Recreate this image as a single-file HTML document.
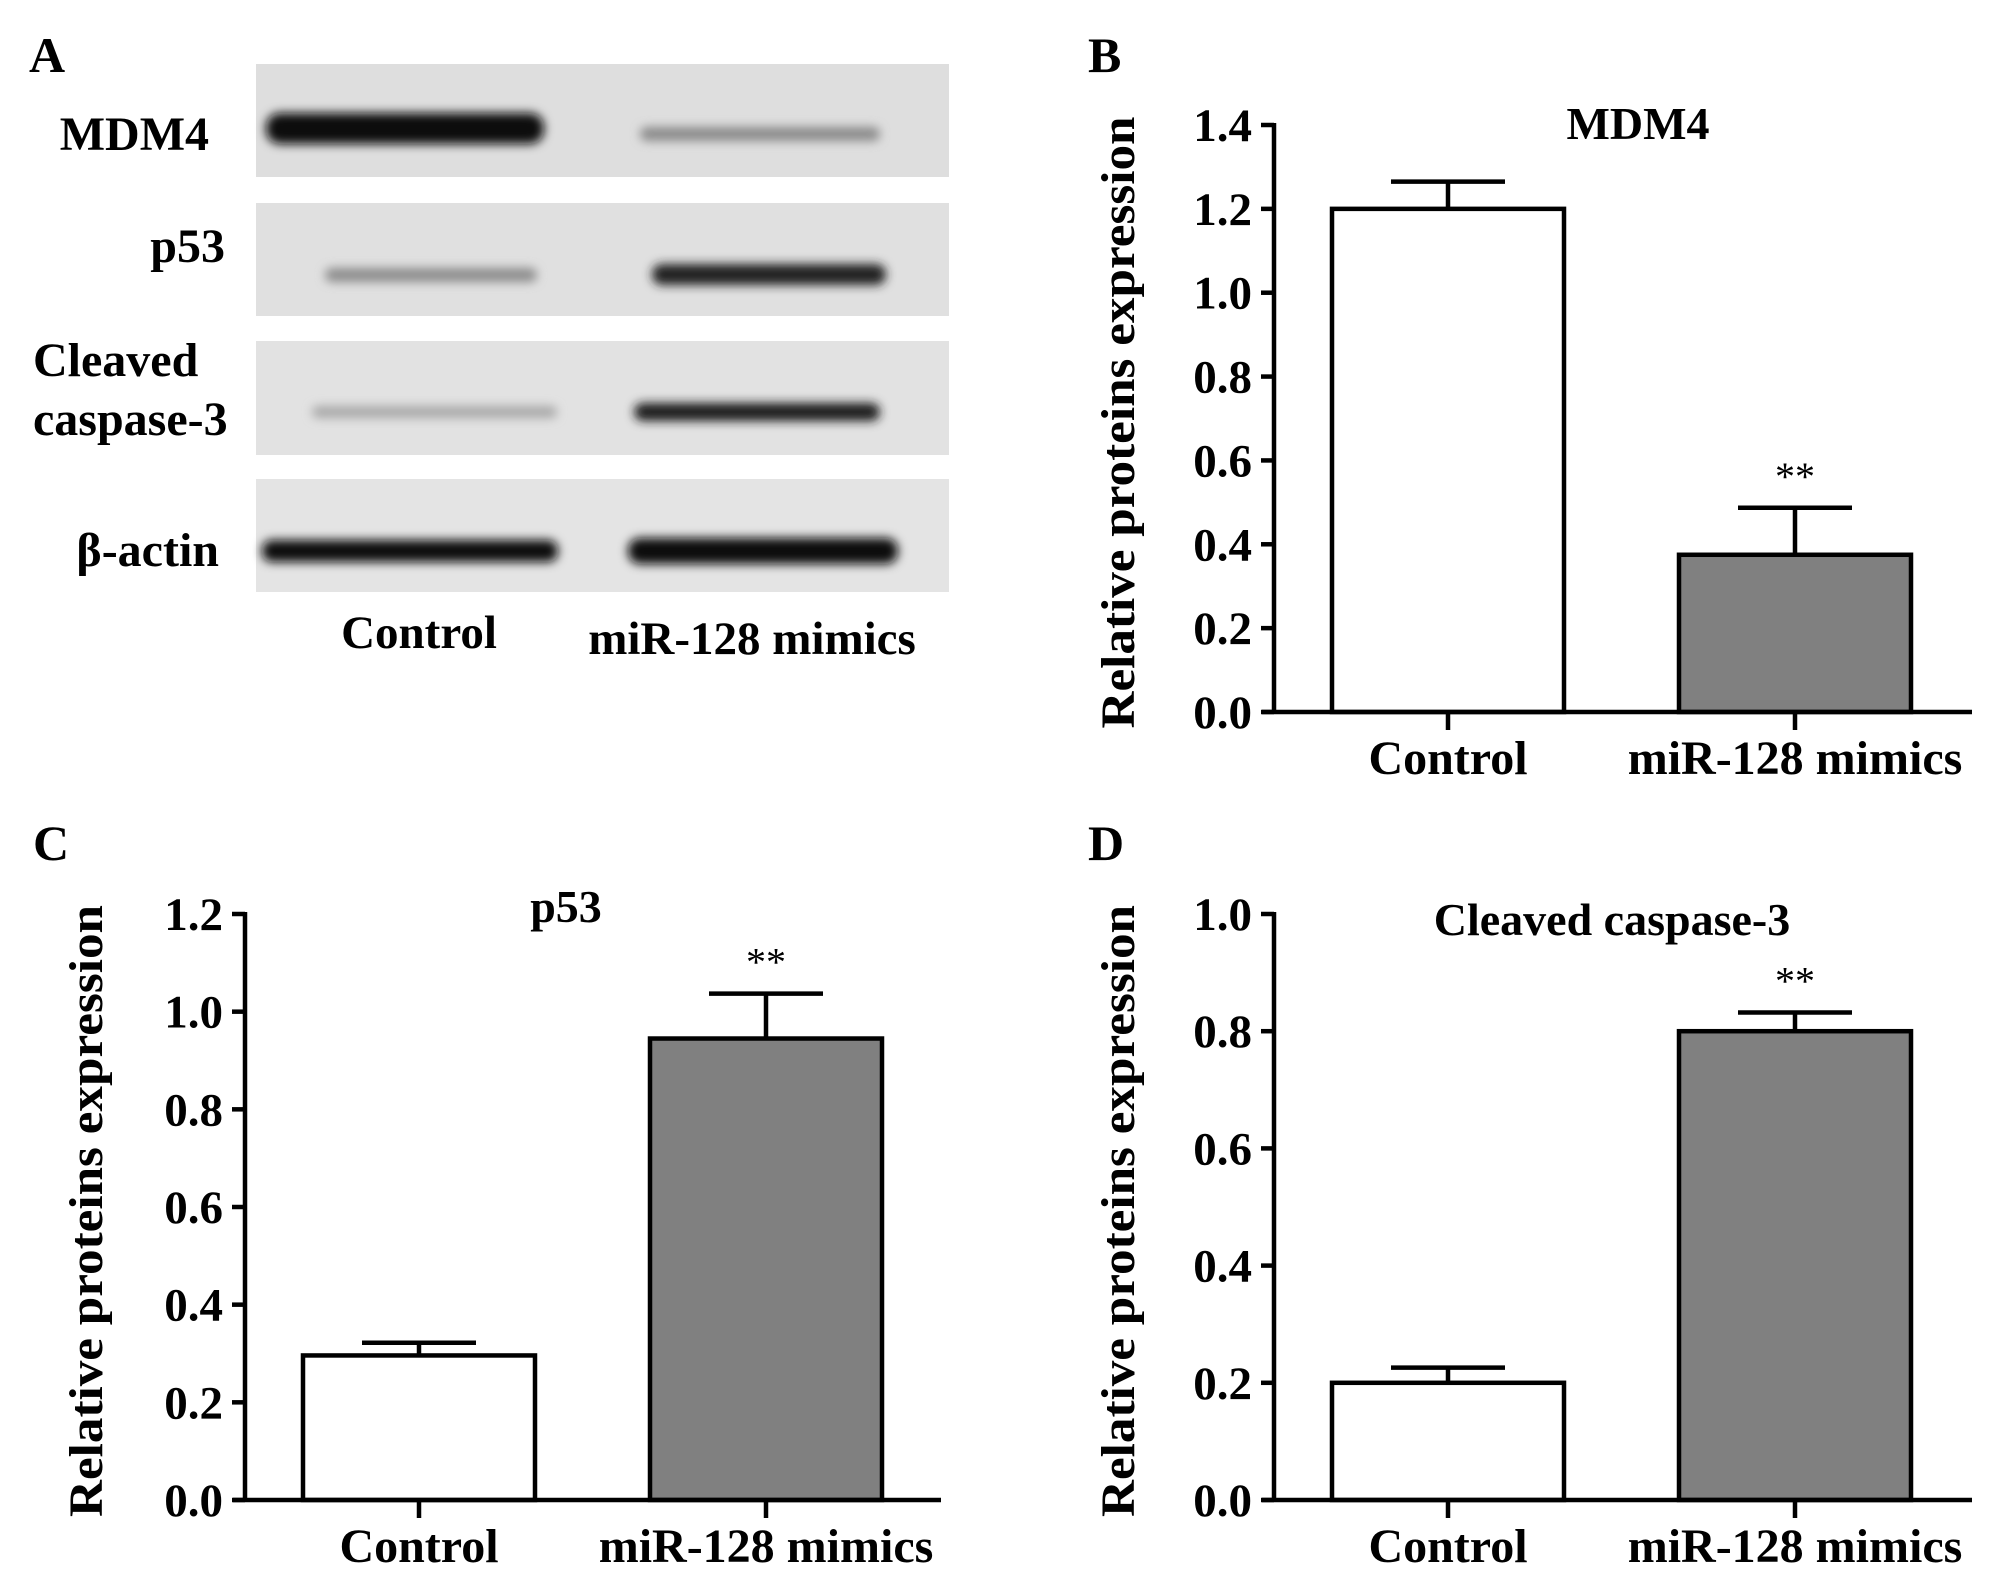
<!DOCTYPE html>
<html><head><meta charset="utf-8"><style>
html,body{margin:0;padding:0;background:#fff;}
svg{display:block;font-family:"Liberation Serif",serif;font-weight:bold;}
</style></head><body>
<svg id="fig" width="2008" height="1580" viewBox="0 0 2008 1580" xmlns="http://www.w3.org/2000/svg">
<defs>
<filter id="blur" x="-20%" y="-100%" width="140%" height="300%"><feGaussianBlur stdDeviation="5"/></filter>
</defs>
<rect width="2008" height="1580" fill="#fff"/>
<g id="panelA">
<text x="29" y="72" font-size="50">A</text>
<g>
<rect x="256" y="64" width="693" height="113" fill="#dedede"/>
<rect x="266" y="113" width="278" height="31" rx="14" fill="#0a0a0a" filter="url(#blur)"/>
<rect x="640" y="127" width="240" height="14" rx="7" fill="#8a8a8a" filter="url(#blur)"/>
</g>
<g>
<rect x="256" y="203" width="693" height="113" fill="#e0e0e0"/>
<rect x="325" y="268" width="212" height="14" rx="7" fill="#8c8c8c" filter="url(#blur)"/>
<rect x="652" y="264" width="234" height="21" rx="10" fill="#222" filter="url(#blur)"/>
</g>
<g>
<rect x="256" y="341" width="693" height="114" fill="#e2e2e2"/>
<rect x="312" y="406" width="245" height="12" rx="6" fill="#a8a8a8" filter="url(#blur)"/>
<rect x="634" y="403" width="246" height="18" rx="9" fill="#1a1a1a" filter="url(#blur)"/>
</g>
<g>
<rect x="256" y="479" width="693" height="113" fill="#e4e4e4"/>
<rect x="262" y="540" width="296" height="22" rx="10" fill="#111" filter="url(#blur)"/>
<rect x="628" y="538" width="270" height="26" rx="12" fill="#0c0c0c" filter="url(#blur)"/>
</g>
<text x="209" y="150" font-size="48" text-anchor="end">MDM4</text>
<text x="225" y="262" font-size="48" text-anchor="end">p53</text>
<text x="33" y="376" font-size="48">Cleaved</text>
<text x="33" y="435" font-size="48">caspase-3</text>
<text x="219" y="566" font-size="48" text-anchor="end">β-actin</text>
<text x="419" y="648" font-size="47" text-anchor="middle">Control</text>
<text x="752" y="654" font-size="47" text-anchor="middle">miR-128 mimics</text>
</g>
</svg>
<script>
// Chart data
const categories = ["Control", "miR-128 mimics"];
const mdm4Values = [1.2, 0.375];
const mdm4Errors = [0.065, 0.112];
const p53Values = [0.296, 0.945];
const p53Errors = [0.026, 0.092];
const caspValues = [0.2, 0.8];
const caspErrors = [0.026, 0.032];
const mdm4Ticks = ["0.0","0.2","0.4","0.6","0.8","1.0","1.2","1.4"];
const p53Ticks = ["0.0","0.2","0.4","0.6","0.8","1.0","1.2"];
const caspTicks = ["0.0","0.2","0.4","0.6","0.8","1.0"];
const sigMarks = ["", "**"];

const NS = "http://www.w3.org/2000/svg";
const svg = document.getElementById('fig');
function mk(tag, attrs, parent) {
  const e = document.createElementNS(NS, tag);
  for (const k in attrs) e.setAttribute(k, attrs[k]);
  (parent || svg).appendChild(e);
  return e;
}

function drawChart(cfg) {
  const g = mk('g', {});
  
  
  const yMax = parseFloat(cfg.ticks[cfg.ticks.length - 1]);
  const y = v => cfg.y0 - (v / yMax) * (cfg.y0 - cfg.yTop);
  const xc = i => cfg.ax + 174 + i * 347;
  const lw = 4.5;

  const letter = mk('text', {x: cfg.letterX, y: cfg.letterY, 'font-size': 50}, g);
  letter.textContent = cfg.letter;
  
  

  const title = mk('text', {x: cfg.titleX, y: cfg.titleY, 'font-size': 46, 'text-anchor': 'middle'}, g);
  title.textContent = cfg.title;
  
  

  const yt = mk('text', {x: 0, y: 0, 'font-size': 48, 'text-anchor': 'middle', textLength: 612, lengthAdjust: 'spacingAndGlyphs',
    transform: 'translate(' + cfg.ytX + ',' + ((cfg.y0 + cfg.yTop) / 2 + 4) + ') rotate(-90)'}, g);
  yt.textContent = 'Relative proteins expression';
  
  

  categories.forEach((c, i) => {
    const vals = cfg.values, errs = cfg.errors;
    const cx = xc(i), half = 116;
    const top = y(vals[i]);
    const et = y(vals[i] + errs[i]);
    const el = mk('line', {x1: cx, x2: cx, y1: top, y2: et, stroke: '#000', 'stroke-width': lw}, g);
    
    
    const cap = mk('line', {x1: cx - 57, x2: cx + 57, y1: et, y2: et, stroke: '#000', 'stroke-width': lw}, g);
    
    
    const r = mk('rect', {x: cx - half, y: top, width: half * 2, height: cfg.y0 - top,
      fill: i === 0 ? '#fff' : '#808080', stroke: '#000', 'stroke-width': lw}, g);
    
    
    if (sigMarks[i]) {
      const s = mk('text', {x: cx, y: et - 18, 'font-size': 40, 'font-weight': 'normal', 'text-anchor': 'middle'}, g);
      s.textContent = sigMarks[i];
      
      
    }
    const tk = mk('line', {x1: cx, x2: cx, y1: cfg.y0, y2: cfg.y0 + 18, stroke: '#000', 'stroke-width': lw}, g);
    
    
    const lab = mk('text', {x: cx, y: cfg.y0 + 62, 'font-size': 48, 'text-anchor': 'middle'}, g);
    lab.textContent = c;
    
    
  });

  const yaxis = mk('line', {x1: cfg.ax, x2: cfg.ax, y1: cfg.yTop - 2, y2: cfg.y0 + 2, stroke: '#000', 'stroke-width': lw}, g);
  
  
  const xaxis = mk('line', {x1: cfg.ax - 12, x2: cfg.xEnd, y1: cfg.y0, y2: cfg.y0, stroke: '#000', 'stroke-width': lw}, g);
  
  
  cfg.ticks.forEach(t => {
    const v = parseFloat(t), ty = y(v);
    const tl = mk('line', {x1: cfg.ax - 13, x2: cfg.ax, y1: ty, y2: ty, stroke: '#000', 'stroke-width': lw}, g);
    
    
    const tx = mk('text', {x: cfg.ax - 22, y: ty + 16, 'font-size': 47, 'text-anchor': 'end'}, g);
    tx.textContent = t;
    
    
  });
}

drawChart({name: 'chart-mdm4', letter: 'B', letterX: 1088, letterY: 72, title: 'MDM4', titleX: 1638, titleY: 139,
  ax: 1274, xEnd: 1972, yTop: 125, y0: 712, ticks: mdm4Ticks, values: mdm4Values, errors: mdm4Errors, ytX: 1134});
drawChart({name: 'chart-p53', letter: 'C', letterX: 33, letterY: 860, title: 'p53', titleX: 566, titleY: 922,
  ax: 245, xEnd: 941, yTop: 914, y0: 1500, ticks: p53Ticks, values: p53Values, errors: p53Errors, ytX: 102});
drawChart({name: 'chart-cleaved-caspase-3', letter: 'D', letterX: 1088, letterY: 860, title: 'Cleaved caspase-3', titleX: 1612, titleY: 935,
  ax: 1274, xEnd: 1972, yTop: 914, y0: 1500, ticks: caspTicks, values: caspValues, errors: caspErrors, ytX: 1134});
</script>
</body></html>
